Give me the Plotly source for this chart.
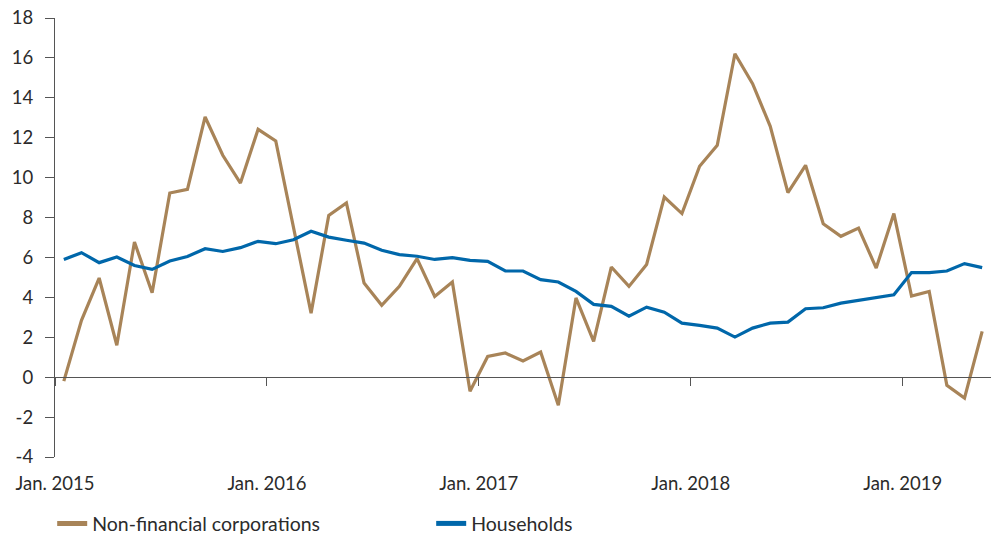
import pandas as pd
import plotly.graph_objects as go

# Monthly observations, Jan. 2015 - May 2019
months = pd.date_range("2015-01-01", "2019-05-01", freq="MS")

non_financial = [
    -0.2, 2.85, 4.97, 1.6, 6.77, 4.23, 9.23, 9.41, 13.04, 11.12, 9.73, 12.42,
    11.84, 7.6, 3.21, 8.11, 8.73, 4.72, 3.6, 4.55, 5.94, 4.05, 4.77, -0.7,
    1.04, 1.21, 0.81, 1.26, -1.41, 3.97, 1.79, 5.52, 4.55, 5.65, 9.03, 8.2,
    10.57, 11.62, 16.21, 14.71, 12.57, 9.25, 10.62, 7.69, 7.06, 7.47, 5.47, 8.2,
    4.07, 4.3, -0.41, -1.05, 2.3,
]

households = [
    5.9, 6.24, 5.74, 6.02, 5.6, 5.4, 5.82, 6.05, 6.44, 6.3, 6.49, 6.81,
    6.69, 6.89, 7.31, 7.02, 6.86, 6.72, 6.36, 6.14, 6.06, 5.9, 5.99, 5.85,
    5.8, 5.32, 5.32, 4.89, 4.77, 4.3, 3.65, 3.55, 3.06, 3.51, 3.26, 2.71,
    2.6, 2.46, 2.01, 2.46, 2.71, 2.76, 3.43, 3.48, 3.71, 3.85, 4.02, 4.13,
    5.24, 5.24, 5.32, 5.69, 5.49,
]

tick_labels = ["Jan. 2015", "Jan. 2016", "Jan. 2017", "Jan. 2018", "Jan. 2019"]
y_ticks = list(range(-4, 19, 2))
y_tick_text = [str(v) for v in y_ticks]  # plain hyphen for negatives

# month index; ticks sit on the boundary before each January
x_idx = list(range(len(months)))
jan_bounds = [i - 0.5 for i, m in enumerate(months) if m.month == 1]

BROWN = "#A88458"
BLUE = "#0067AA"
TEXT = "#2b2b2b"
AXIS = "#555555"
FONT = "Lato"

fig = go.Figure()
fig.add_trace(go.Scatter(
    x=x_idx, y=non_financial, mode="lines", name="Non-financial corporations",
    line=dict(color=BROWN, width=3.2),
))
fig.add_trace(go.Scatter(
    x=x_idx, y=households, mode="lines", name="Households",
    line=dict(color=BLUE, width=3.2),
))

fig.update_layout(
    width=995, height=535,
    margin=dict(l=55, r=4, t=18, b=78, autoexpand=False),
    paper_bgcolor="white", plot_bgcolor="white",
    font=dict(family=FONT, size=18, color=TEXT),
    showlegend=True,
    legend=dict(
        orientation="h", x=-0.003, xanchor="left", y=-0.152, yanchor="middle",
        font=dict(family=FONT, size=19.5, color=TEXT),
        entrywidth=334, entrywidthmode="pixels",
        itemsizing="constant", traceorder="normal",
    ),
    xaxis=dict(
        range=[-0.5, len(months) - 0.5],
        tickmode="array", tickvals=jan_bounds, ticktext=tick_labels,
        anchor="free", position=4 / 22,
        showline=True, linecolor=AXIS, linewidth=1.2,
        ticks="outside", ticklen=8, tickwidth=1.2, tickcolor=AXIS,
        ticklabelstandoff=82,
        showgrid=False, zeroline=False, automargin=False,
        tickfont=dict(family=FONT, size=18.5, color=TEXT),
    ),
    yaxis=dict(
        range=[-4, 18], tickmode="array", tickvals=y_ticks, ticktext=y_tick_text,
        showline=True, linecolor=AXIS, linewidth=1.2,
        ticks="outside", ticklen=9, tickwidth=1.2, tickcolor=AXIS,
        ticklabelstandoff=8,
        showgrid=False, zeroline=False, automargin=False,
        tickfont=dict(family=FONT, size=18.5, color=TEXT),
    ),
)

fig.write_html("out.html")
